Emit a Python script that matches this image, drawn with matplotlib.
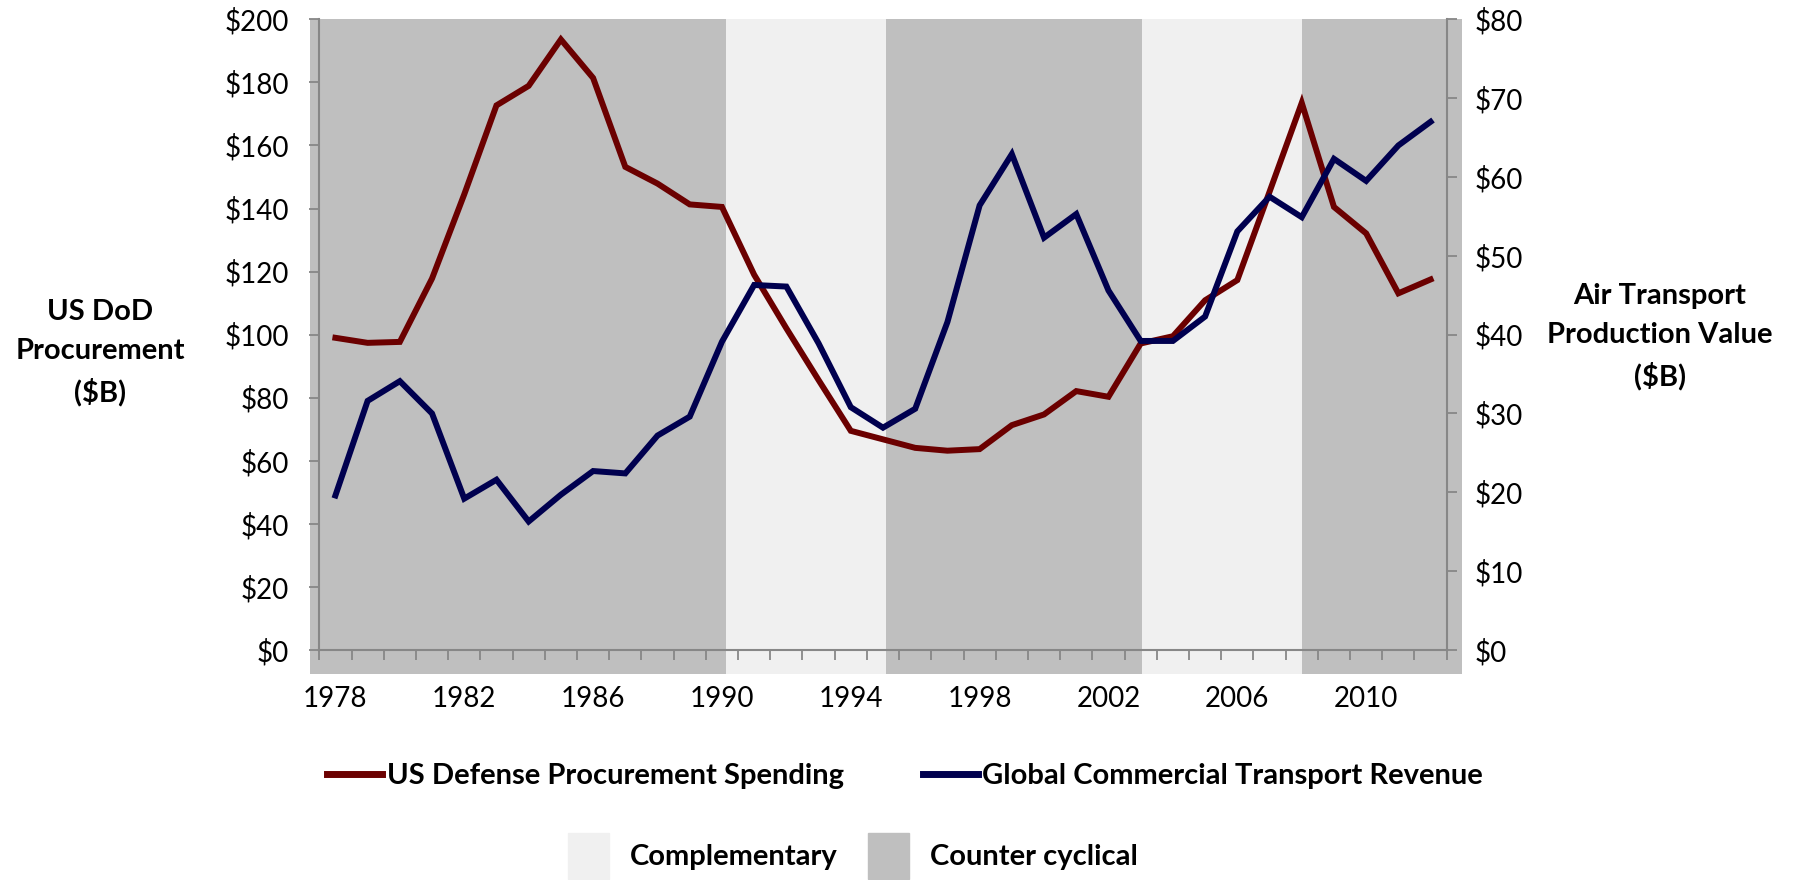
import matplotlib

matplotlib.use("Agg")
import matplotlib.pyplot as plt  # noqa: E402
from matplotlib.lines import Line2D  # noqa: E402
from matplotlib.patches import Patch  # noqa: E402
import numpy as np  # noqa: E402

plt.rcParams["font.family"] = ["Lato", "DejaVu Sans"]

# ---- data ----
years = list(range(1978, 2013))
dod_procurement = [99, 97.4, 97.7, 117.8, 144.5, 172.7, 178.9, 193.6, 181.4, 153.2,
                   147.9, 141.3, 140.5, 119, 102, 85.6, 69.5, 66.8, 64.1, 63.2,
                   63.7, 71.3, 74.7, 82.1, 80.3, 97.2, 99.5, 110.9, 117.3, 145.3,
                   173.5, 140.5, 132.1, 113.1, 117.5]
air_transport = [19.6, 31.6, 34.1, 30.0, 19.2, 21.6, 16.3, 19.7, 22.7, 22.4,
                 27.2, 29.6, 39.1, 46.3, 46.1, 38.9, 30.8, 28.2, 30.6, 41.6,
                 56.4, 62.9, 52.3, 55.3, 45.6, 39.2, 39.2, 42.3, 53.1, 57.5,
                 54.9, 62.3, 59.5, 64.0, 67.0]

# background regime bands (widths in band-chart slots)
band_kinds = ["Counter cyclical", "Complementary", "Counter cyclical",
              "Complementary", "Counter cyclical"]
band_widths = [13, 5, 8, 5, 5]

RED = "#6B0000"
BLUE = "#00004F"
AXIS_GREY = "#878787"
band_colors = {"Complementary": "#F0F0F0", "Counter cyclical": "#BFBFBF"}
TICK_FS = 20
TITLE_FS = 21

W, H = 1793, 880
fig = plt.figure(figsize=(W / 100, H / 100), dpi=100)


def frac(x0, y0, x1, y1):
    return [x0 / W, 1 - y1 / H, (x1 - x0) / W, (y1 - y0) / H]


# band layer (slightly larger than the plotting area, like Excel's plot area)
ax_bg = fig.add_axes(frac(310, 19.3, 1462, 674.3), zorder=0)
lefts = np.concatenate([[0], np.cumsum(band_widths)[:-1]])
ax_bg.bar(lefts, 1, width=band_widths, align="edge", linewidth=0,
          color=[band_colors[k] for k in band_kinds])
ax_bg.set_xlim(0, sum(band_widths)); ax_bg.set_ylim(0, 1)
ax_bg.axis("off")

# main line chart
ax = fig.add_axes(frac(319.3, 19.3, 1446.7, 650), zorder=1)
ax.patch.set_visible(False)
x = np.arange(len(years))
ax.plot(x, dod_procurement, color=RED, lw=4.3, solid_joinstyle="miter")
ax.set_xlim(-0.5, len(years) - 0.5)
ax.set_ylim(0, 200)
ax.set_yticks(range(0, 201, 20))
ax.set_yticklabels([f"${v}" for v in range(0, 201, 20)])
ax.set_xticks(x[::4])
ax.set_xticklabels([str(y) for y in years[::4]])
ax.set_xticks(np.arange(-0.5, len(years)), minor=True)
ax.tick_params(axis="x", which="major", length=0, pad=26, labelsize=TICK_FS)
ax.tick_params(axis="x", which="minor", length=7, width=1.3, color=AXIS_GREY, direction="out")
ax.tick_params(axis="y", length=7, width=1.3, color=AXIS_GREY, pad=15, labelsize=TICK_FS)
for s in ["top", "right"]:
    ax.spines[s].set_visible(False)
for s in ["left", "bottom"]:
    ax.spines[s].set_color(AXIS_GREY); ax.spines[s].set_linewidth(1.5)

ax2 = ax.twinx()
ax2.plot(x, air_transport, color=BLUE, lw=4.3, solid_joinstyle="miter")
ax2.set_ylim(0, 80)
ax2.set_yticks(range(0, 81, 10))
ax2.set_yticklabels([f"${v}" for v in range(0, 81, 10)])
ax2.tick_params(axis="y", length=7, width=1.3, color=AXIS_GREY, pad=13, labelsize=TICK_FS)
for s in ["top", "left", "bottom"]:
    ax2.spines[s].set_visible(False)
ax2.spines["right"].set_color(AXIS_GREY); ax2.spines["right"].set_linewidth(1.5)

# axis titles
fig.text(100 / W, 1 - 353 / H, "US DoD\nProcurement\n($B)", ha="center", va="center",
         fontsize=TITLE_FS, fontweight="bold", linespacing=1.6)
fig.text(1660 / W, 1 - 337 / H, "Air Transport\nProduction Value\n($B)", ha="center",
         va="center", fontsize=TITLE_FS, fontweight="bold", linespacing=1.6)

# legends
line_handles = [Line2D([], [], color=RED, lw=5), Line2D([], [], color=BLUE, lw=5)]
fig.legend(line_handles, ["US Defense Procurement Spending", "Global Commercial Transport Revenue"],
           loc="center", bbox_to_anchor=(905 / W, 1 - 776 / H), ncol=2, frameon=False,
           prop={"weight": "bold", "size": TITLE_FS}, handlelength=1.9, handletextpad=0.15,
           columnspacing=2.7)
patch_handles = [Patch(color=band_colors["Complementary"]), Patch(color=band_colors["Counter cyclical"])]
fig.legend(patch_handles, ["Complementary", "Counter cyclical"],
           loc="center", bbox_to_anchor=(853 / W, 1 - 856 / H), ncol=2, frameon=False,
           prop={"weight": "bold", "size": TITLE_FS}, handlelength=1.4, handleheight=2.0,
           handletextpad=0.72, columnspacing=1.06)

fig.savefig("out.png", dpi=100)
plt.close(fig)
